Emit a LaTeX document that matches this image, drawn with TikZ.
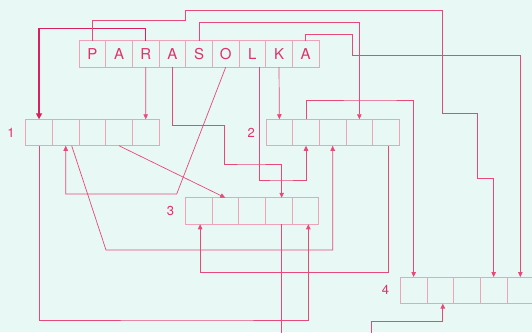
\documentclass[tikz,border=0pt]{standalone}
\usepackage{fontspec}
\setmainfont{TeX Gyre Heros}
\usepackage{xcolor}
\usetikzlibrary{positioning, arrows.meta}

\definecolor{paper}{HTML}{E8F8F4}
\definecolor{ink}{HTML}{E8487A}
\definecolor{darkink}{HTML}{D8205E}
\definecolor{cellline}{HTML}{EFA3B8}
\definecolor{letterred}{HTML}{E2306A}

\begin{document}
\begin{tikzpicture}[x=1pt, y=-1pt,
    cellbox/.style={draw=cellline, rectangle, minimum width=26.67pt, minimum height=26.5pt,
      inner sep=0pt, outer sep=0pt, line width=0.7pt, text=letterred, font=\fontsize{15}{15}\selectfont},
    num/.style={text=letterred, inner sep=0pt, font=\fontsize{13}{13}\selectfont},
    plain wire/.style={draw=ink, line width=0.7pt},
    wire/.style={plain wire, -{Triangle[width=4.5pt,length=5pt]}},
    bold wire/.style={draw=darkink, line width=1.4pt, -{Triangle[width=6pt,length=6pt]}}]
  \useasboundingbox (0,0) rectangle (532,332);
  \fill[paper] (0,0) rectangle (532,332);

  % Word cells
  \foreach \ch [count=\i] in {P,A,R,A,S,O,L,K,A}
    \node[cellbox] (w\i) at ({79+26.67*(\i-0.5)}, 54) {\ch};

  % Numbered rows of cells
  \foreach \i in {1,...,5} {
    \node[cellbox] (a\i) at ({25.7+26.67*(\i-0.5)}, 132.5) {};
    \node[cellbox] (b\i) at ({266+26.67*(\i-0.5)}, 132.5) {};
    \node[cellbox] (c\i) at ({185.3+26.67*(\i-0.5)}, 211) {};
    \node[cellbox] (d\i) at ({400.3+26.67*(\i-0.5)}, 290.3) {};
  }
  \node[num, left=11pt of a1] (n1) {1};
  \node[num, left=11pt of b1] (n2) {2};
  \node[num, left=11pt of c1] (n3) {3};
  \node[num, left=11pt of d1] (n4) {4};

  % Loose ends at the bottom edge
  \coordinate (out3) at ([yshift=-120pt]c4.south);
  \coordinate (in4) at (371,345);

  % Links from the word
  \draw[bold wire] (w3.north) -- ++(0,-12) -| (a1.north);
  \draw[wire] (w3.south) -- (a5.north);
  \draw[wire] (w1.north) |- (185.7,20) |- (442.3,10) |- (477,113.3) |- (485,178.3) -| (d4.north);
  \draw[wire] (w5.north) |- (340,22.3) -| (b4.north);
  \draw[wire] (w9.north) |- (352.3,34.3) |- (450,55.3) -| (d5.north);
  \draw[wire] (w8.south) -- (b1.north);
  \draw[wire] (w4.south) |- (224,125.7) |- (250,164) -| ([xshift=3pt]c4.north);
  \draw[wire] ([xshift=6.7pt]w7.south) |- (280,180) -| (b2.south);
  \draw[wire] (w6.south) -- (176.7,194) -| (a2.south);

  % Links between the rows
  \draw[wire] (b2.north) |- (380,100) -| (d1.north);
  \draw[wire] (a4.south) -- (c2.north);
  \draw[wire] ([xshift=6pt]a2.south) -- (106,250) -| (b3.south);
  \draw[wire] (a1.south) |- (200,320) -| ([xshift=3pt]c5.south);
  \draw[wire] ([xshift=2pt]b5.south) |- (300,272.7) -| ([xshift=1.5pt]c1.south);
  \draw[plain wire] ([xshift=3pt]c4.south) -- ([xshift=3pt]out3);
  \draw[wire] (in4) |- (400,321.7) -| ([xshift=2.5pt]d2.south);
\end{tikzpicture}
\end{document}
